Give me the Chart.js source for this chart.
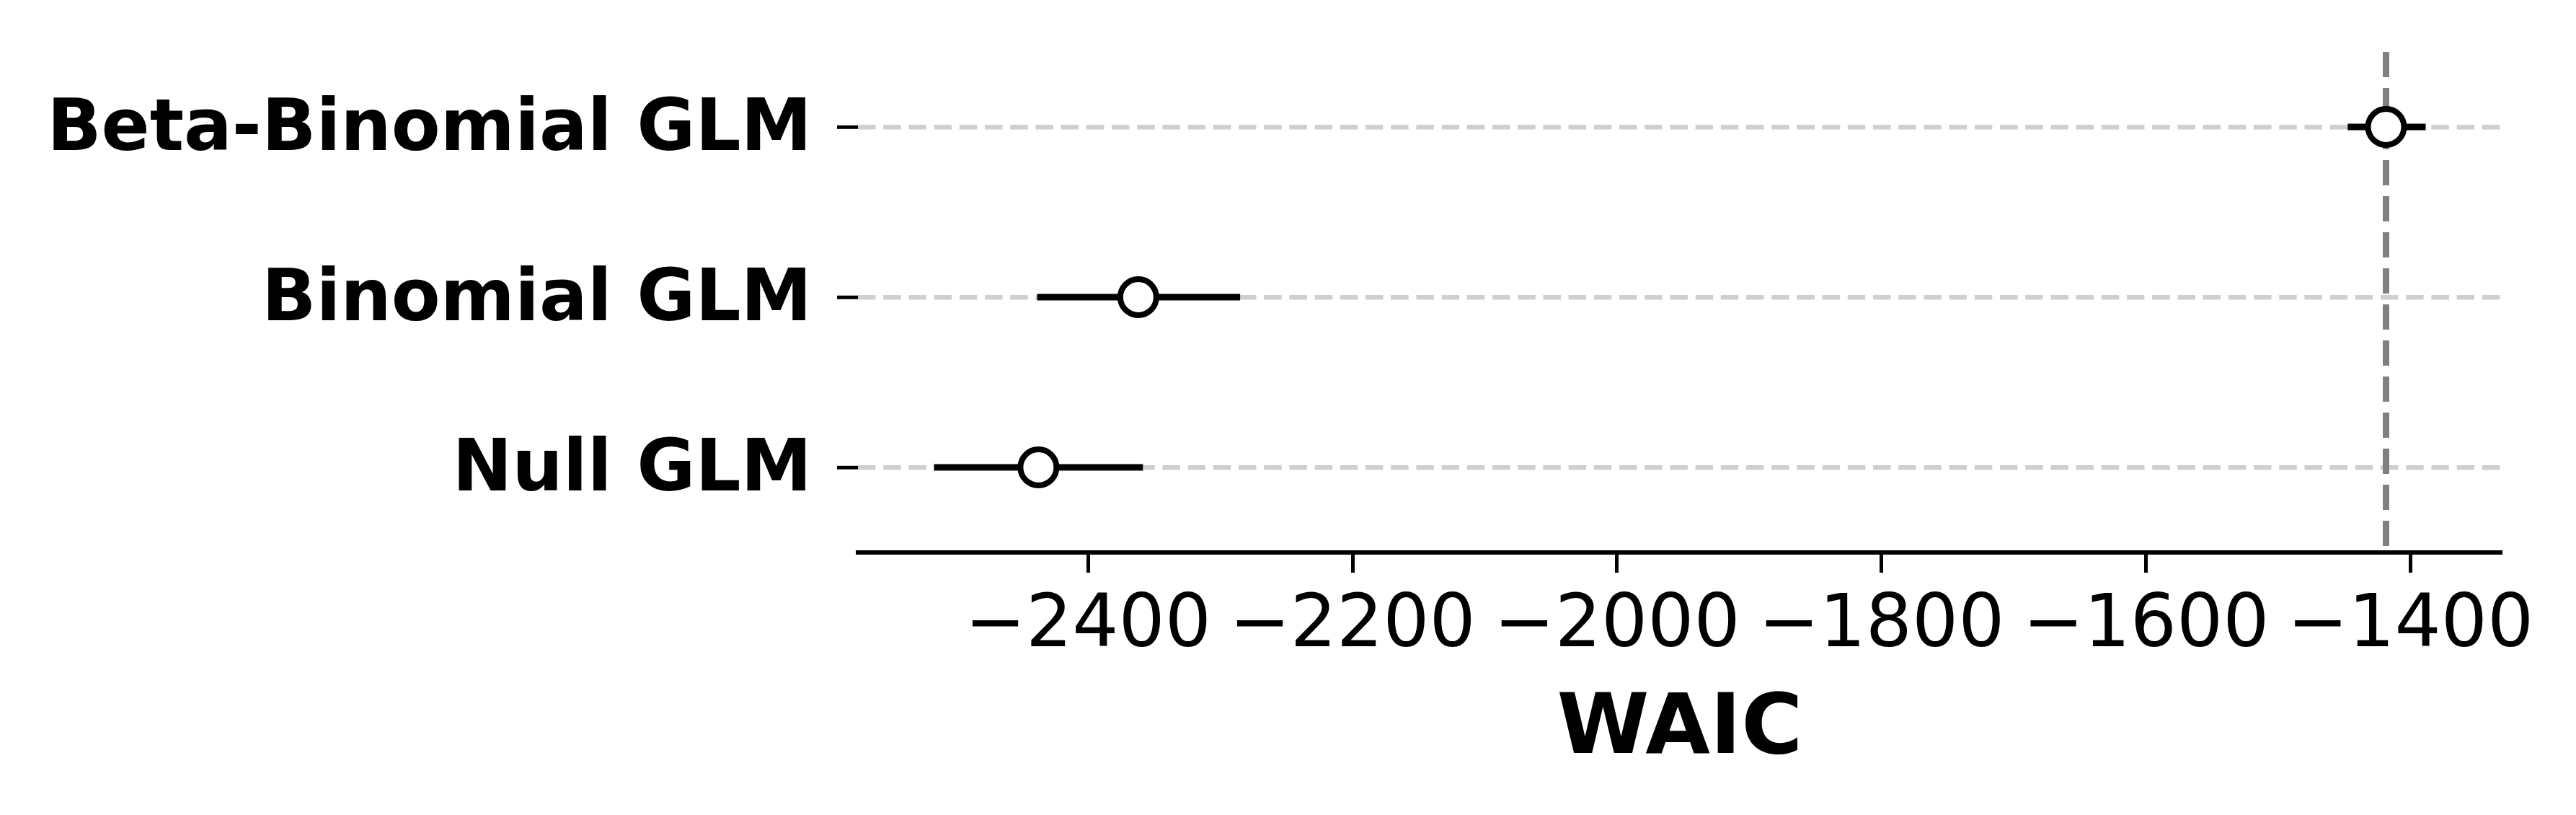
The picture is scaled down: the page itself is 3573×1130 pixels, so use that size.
<!DOCTYPE html>
<html>
<head>
<meta charset="utf-8">
<script src="https://cdn.jsdelivr.net/npm/chart.js@4/dist/chart.umd.min.js"></script>
<style>
html,body{margin:0;padding:0;background:#fff;}
#wrap{width:3573px;height:1130px;position:relative;}
</style>
</head>
<body>
<div id="wrap"><canvas id="c" width="3573" height="1130"></canvas></div>
<script>
// ---- data ----
const models = ["Beta-Binomial GLM", "Binomial GLM", "Null GLM"];
const waic = [-1418.5, -2362, -2437.5];
const waicLow = [-1447.5, -2438.5, -2516.5];
const waicHigh = [-1388.5, -2285, -2358.5];
const bestWaic = -1418.5;
const xTicks = [-2400, -2200, -2000, -1800, -1600, -1400];
const xMin = -2574, xMax = -1331;
const xTitle = "WAIC";

const FONT = "'DejaVu Sans', sans-serif";

const datasets = [];
datasets.push({
  type: 'scatter', label: 'waic',
  data: waic.map((v, i) => ({x: v, y: i})),
  pointStyle: 'circle', pointRadius: 25, pointHoverRadius: 25,
  pointBackgroundColor: '#ffffff', pointBorderColor: '#000000', pointBorderWidth: 8,
  order: 0
});
models.forEach((m, i) => {
  datasets.push({
    type: 'line', label: 'err' + i,
    data: [{x: waicLow[i], y: i}, {x: waicHigh[i], y: i}],
    borderColor: '#000000', borderWidth: 9, borderCapStyle: 'butt',
    pointRadius: 0, fill: false, order: 1
  });
});
datasets.push({
  type: 'line', label: 'best',
  data: [{x: bestWaic, y: -0.5}, {x: bestWaic, y: 2.5}],
  borderColor: '#808080', borderWidth: 9, borderDash: [35, 15], borderDashOffset: 36,
  borderCapStyle: 'butt', pointRadius: 0, fill: false, order: 2
});

new Chart(document.getElementById('c'), {
  type: 'scatter',
  data: {datasets},
  options: {
    responsive: false, animation: false, devicePixelRatio: 1,
    layout: {padding: {top: 58, right: 103, left: 0, bottom: 0}},
    plugins: {legend: {display: false}, tooltip: {enabled: false}},
    scales: {
      x: {
        type: 'linear', position: 'bottom', min: xMin, max: xMax,
        afterBuildTicks: (axis) => { axis.ticks = xTicks.map(v => ({value: v})); },
        afterFit: (scale) => { scale.height = 364; scale.paddingLeft = 0; scale.paddingRight = 0; },
        ticks: {
          color: '#000', font: {family: FONT, size: 101}, padding: 15,
          maxRotation: 0, autoSkip: false,
          callback: (v) => String(v).replace('-', '\u2212')
        },
        grid: {drawOnChartArea: false, drawTicks: true, tickLength: 28, tickWidth: 5, tickColor: '#000'},
        border: {display: true, color: '#000', width: 6},
        title: {
          display: true, text: xTitle, color: '#000',
          font: {family: FONT, size: 116, weight: 'bold', lineHeight: 1},
          padding: {top: 0, bottom: 58}
        }
      },
      y: {
        type: 'linear', position: 'left', reverse: true, min: -0.5, max: 2.5,
        afterBuildTicks: (axis) => { axis.ticks = models.map((m, i) => ({value: i})); },
        afterFit: (scale) => { scale.width = 1190; scale.paddingTop = 0; scale.paddingBottom = 0; },
        ticks: {
          color: '#000', font: {family: FONT, size: 99, weight: 'bold'}, padding: 35,
          labelOffset: 6, autoSkip: false,
          callback: (v) => models[v] !== undefined ? models[v] : ''
        },
        grid: {
          display: true, drawOnChartArea: true, color: '#cfcfcf', lineWidth: 6.6,
          drawTicks: true, tickLength: 29, tickWidth: 5, tickColor: '#000'
        },
        border: {display: false, dash: [24.5, 10.7]}
      }
    }
  }
});
</script>
</body>
</html>
